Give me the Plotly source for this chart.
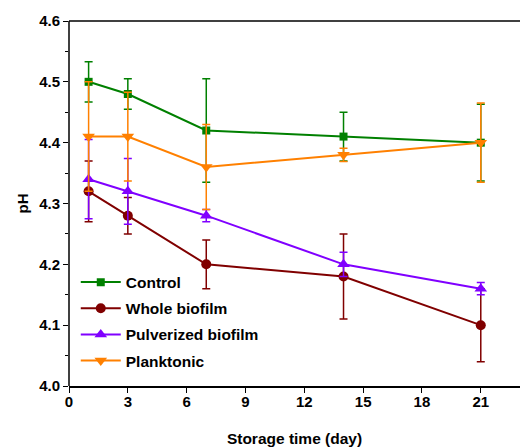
import plotly.graph_objects as go

days = [1, 3, 7, 14, 21]
series_names = ["Control", "Whole biofilm", "Pulverized biofilm", "Planktonic"]
control = [4.50, 4.48, 4.42, 4.41, 4.40]
control_err = [0.033, 0.025, 0.085, 0.04, 0.063]
whole = [4.32, 4.28, 4.20, 4.18, 4.10]
whole_err = [0.05, 0.03, 0.04, 0.07, 0.06]
pulver = [4.34, 4.32, 4.28, 4.20, 4.16]
pulver_err = [0.065, 0.054, 0.01, 0.02, 0.01]
plank = [4.41, 4.41, 4.36, 4.38, 4.40]
plank_err = [0.09, 0.073, 0.07, 0.011, 0.065]

x_ticks = [0, 3, 6, 9, 12, 15, 18, 21]
y_ticks = [4.0, 4.1, 4.2, 4.3, 4.4, 4.5, 4.6]

colors = ["#008000", "#800000", "#8000FF", "#FF8000"]
symbols = ["square", "circle", "triangle-up", "triangle-down"]
sizes = [8, 10, 11, 11]
values = [control, whole, pulver, plank]
errors = [control_err, whole_err, pulver_err, plank_err]

fig = go.Figure()
for name, y, e, c, s, sz in zip(series_names, values, errors, colors, symbols, sizes):
    fig.add_trace(go.Scatter(
        x=days, y=y, name=name, mode="lines+markers", legendgroup=name,
        line=dict(color=c, width=2),
        marker=dict(symbol=s, size=sz, color=c),
        error_y=dict(type="data", array=e, visible=True, color=c, thickness=1.5, width=4),
    ))

font_family = "Liberation Sans, Arial, sans-serif"
fig.add_shape(type="line", xref="paper", yref="paper", x0=0, x1=0, y0=0, y1=1,
              line=dict(color="black", width=1.5), layer="above")
fig.add_shape(type="line", xref="paper", yref="paper", x0=0, x1=1.02, y0=1, y1=1,
              line=dict(color="black", width=1.5), layer="above")
fig.update_layout(
    width=520, height=448,
    margin=dict(l=69, r=0, t=21, b=62, pad=0),
    plot_bgcolor="white", paper_bgcolor="white",
    font=dict(family=font_family, size=15, color="black"),
    showlegend=True,
    legend=dict(x=0.015, y=0.33, xanchor="left", yanchor="top",
                bgcolor="rgba(0,0,0,0)", font=dict(size=15.5, family=font_family, weight="bold"),
                tracegroupgap=3, itemwidth=40),
    xaxis=dict(range=[0, 23], tickvals=x_ticks, ticktext=[str(v) for v in x_ticks],
               showgrid=False, zeroline=False, showline=True, linecolor="black", linewidth=1.5,
               mirror=False, ticks="outside", ticklen=5, tickwidth=1.2, tickcolor="black",
               ticklabelstandoff=-4,
               tickfont=dict(size=15, weight="bold"),
               title=dict(text="Storage time (day)", font=dict(size=15.5, weight="bold"), standoff=24)),
    yaxis=dict(range=[4.0, 4.6], tickvals=y_ticks, ticktext=[f"{v:.1f}" for v in y_ticks],
               showgrid=False, zeroline=False, showline=False, mirror=False,
               ticks="outside", ticklen=5, tickwidth=1.2, tickcolor="black",
               minor=dict(dtick=0.05, ticks="outside", ticklen=3, tickcolor="black", showgrid=False),
               tickfont=dict(size=15, weight="bold"),
               title=dict(text="pH", font=dict(size=15, weight="bold"), standoff=6)),
)

fig.write_html("out.html", config={"displayModeBar": False})
